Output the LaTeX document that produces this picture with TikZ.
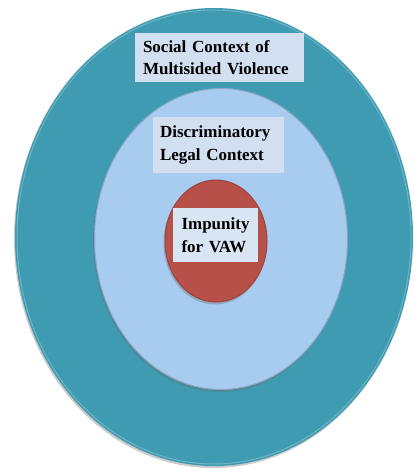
\documentclass[tikz,border=0pt]{standalone}
\usepackage{fontspec}
\setmainfont{Liberation Serif}
\usetikzlibrary{shadows,shapes.geometric}
\definecolor{teal}{HTML}{3F9BB1}
\definecolor{paleblue}{HTML}{A8CBF0}
\definecolor{brick}{HTML}{B8504A}
\definecolor{tagfill}{HTML}{D1DFF1}
\begin{document}
\begin{tikzpicture}[x=1pt,y=-1pt,
  ring/.style={shape=ellipse, draw=none, inner sep=0pt,
    drop shadow={shadow xshift=-1pt, shadow yshift=-2pt, opacity=0.35, fill=black!60}},
  tag/.style={fill=tagfill, inner sep=0pt, align=left,
    font=\bfseries\fontsize{17}{22.5}\selectfont, text=black},
]
  \useasboundingbox (0,0) rectangle (414,469);

  % nested contexts, outermost first
  \node[ring, fill=teal, minimum width=398pt, minimum height=458pt] (social) at (214,237) {};
  \node[ring, fill=paleblue, minimum width=254pt, minimum height=302pt] (legal) at (221,239) {};
  \node[ring, fill=brick, minimum width=103pt, minimum height=123pt] (impunity) at (216,241) {};

  % rim highlights
  \draw[white, opacity=0.25, line width=1pt] (social.center) ellipse [x radius=197pt, y radius=227pt];
  \draw[black, opacity=0.18, line width=1pt] (legal.center) ellipse [x radius=126.5pt, y radius=150.5pt];
  \draw[black, opacity=0.15, line width=1pt] (impunity.center) ellipse [x radius=51pt, y radius=61pt];

  % labels
  \node[tag, minimum width=169pt, minimum height=49pt, text width=153pt] (socialtag) at (219.5,57.5)
    {Social Context of\\Multisided Violence};
  \node[tag, minimum width=131pt, minimum height=56pt, text width=117pt] (legaltag) at (218.5,145)
    {Discriminatory\\Legal Context};
  \node[tag, minimum width=85pt, minimum height=54pt, text width=68pt, fill=tagfill!80!white] (impunitytag) at (215.5,235)
    {Impunity\\for VAW};
\end{tikzpicture}
\end{document}
